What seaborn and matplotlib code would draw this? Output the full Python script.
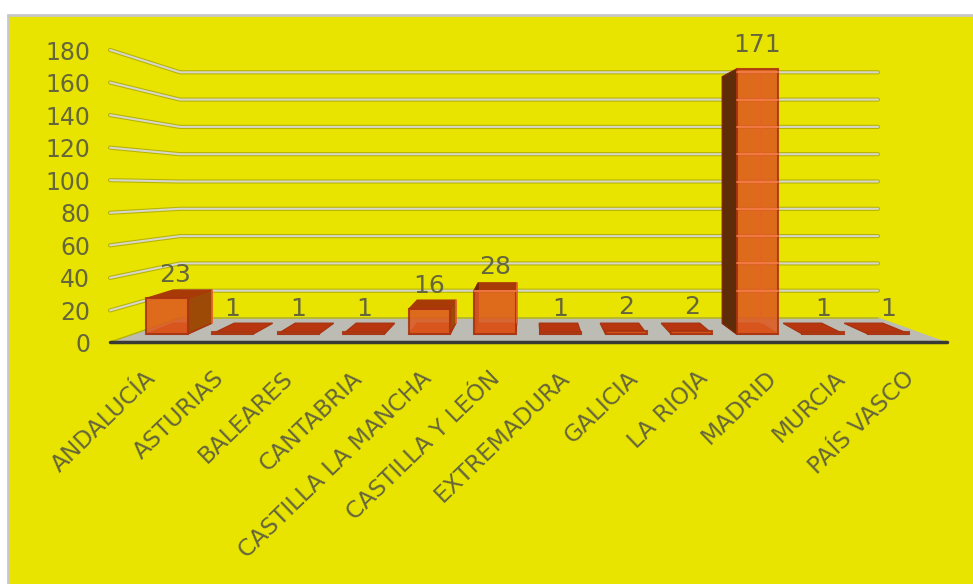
# import libraries
import pandas as pd
import seaborn as sns
import matplotlib.pyplot as plt
from matplotlib.patches import Rectangle
from matplotlib.transforms import Affine2D

# Chart data
regions = ['ANDALUCÍA', 'ASTURIAS', 'BALEARES', 'CANTABRIA', 'CASTILLA LA MANCHA',
           'CASTILLA Y LEÓN', 'EXTREMADURA', 'GALICIA', 'LA RIOJA', 'MADRID',
           'MURCIA', 'PAÍS VASCO']
counts = [23, 1, 1, 1, 16, 28, 1, 2, 2, 171, 1, 1]
ticks = [0, 20, 40, 60, 80, 100, 120, 140, 160, 180]

df = pd.DataFrame({'region': regions, 'count': counts})

W, H = 973, 584
YELLOW = '#e8e400'
TEXT = '#66663c'

sns.set_theme(style='white')
plt.rcParams['font.family'] = ['DejaVu Sans']

fig = plt.figure(figsize=(W / 100, H / 100), dpi=100, facecolor='white')
fig.add_artist(Rectangle((8 / W, -0.01), 1, 1.01 - 15 / H, transform=fig.transFigure,
                         facecolor=YELLOW, edgecolor='#c8c8c8', linewidth=2, zorder=-1))

# Main axes runs from the top of the picture to the front edge of the floor
FLOOR_PX = 343
ax = fig.add_axes([0, 1 - FLOOR_PX / H, 1, FLOOR_PX / H])
ax.patch.set_alpha(0)


# pixel position -> data position for the main axes
def dx(px):
    return (px - 167) / 65.6


def dy(py):
    return (334 - py) / 1.55


# one point pushed back towards the vanishing point
def back(x, y, k=0.07):
    return x + (dx(530) - x) * k, y + (dy(180) - y) * k


# Floor and back wall grid
ax.fill([dx(110), dx(180), dx(878), dx(947)], [dy(343), dy(318), dy(318), dy(343)],
        color='#bcbcb4', zorder=1)
ax.plot([dx(110), dx(947)], [dy(342), dy(342)], color='#3a3a34', lw=2.5, zorder=1.5,
        clip_on=False)
ax.plot([dx(110), dx(180), dx(878)], [dy(342), dy(318), dy(318)], color='#b4b400',
        lw=1, zorder=1.2)
for t in ticks[1:]:
    gx = [dx(110), dx(180), dx(878)]
    gy = [dy(343 - t * 1.628), dy(318 - t * 1.365), dy(318 - t * 1.365)]
    ax.plot(gx, gy, color='#b5b200', lw=3, zorder=1.3)
    ax.plot(gx, gy, color='#d6d6cc', lw=1.5, zorder=1.4)

# Back, side and top faces of each bar
half = 0.315
for i, v in enumerate(counts):
    bl, br = i - half, i + half
    (bl_x, bl_b), (br_x, br_b) = back(bl, 0), back(br, 0)
    (tl_x, tl_y), (tr_x, tr_y) = back(bl, v), back(br, v)
    ax.fill([bl, br, br_x, bl_x], [0, 0, br_b, bl_b], color='#b8360f', ec='#a8330f',
            lw=1, zorder=2)
    if v > 2:
        if v < dy(180):
            ax.fill([bl, br, tr_x, tl_x], [v, v, tr_y, tl_y], color='#a83a08', zorder=2.2)
        # the side turned towards the viewer
        if i < 5:
            ax.fill([br, br_x, tr_x, br], [0, br_b, tr_y, v], color='#9c4a06',
                    ec='#a8330f', lw=1, zorder=2.1)
        else:
            ax.fill([bl, bl_x, tl_x, bl], [0, bl_b, tl_y, v], color='#5e2c08',
                    ec='#7a2a08', lw=1, zorder=3)
        ax.plot([tr_x, tr_x], [br_b, tr_y], color='#e8602a', lw=1.2, zorder=5)
        # wall grid showing through the glassy front
        for t in ticks[1:]:
            if dy(318 - t * 1.365) < v:
                ax.plot([bl, br], [dy(318 - t * 1.365)] * 2, color='#f47a44', lw=1.3, zorder=5)

# Front faces
sns.barplot(data=df, x='region', y='count', order=regions, color='#dd5a20', saturation=1,
            width=half * 2, alpha=0.88, edgecolor='#a8330f', linewidth=1.5, ax=ax, zorder=4)
ax.set_xlim(dx(0), dx(W))
ax.set_ylim(dy(FLOOR_PX), dy(0))
ax.set_xlabel('')
ax.set_ylabel('')
ax.set_yticks([])
sns.despine(ax=ax, left=True, bottom=True, top=True, right=True)

# Region labels, spread a little wider than the bars since they sit on the front edge
ax.set_xticks(range(len(regions)))
ax.set_xticklabels(regions, rotation=44, ha='right', va='top', rotation_mode='anchor',
                   fontsize=16.8, color=TEXT)
ax.tick_params(axis='x', length=0, pad=17)
for i, lab in enumerate(ax.get_xticklabels()):
    lab.set_transform(lab.get_transform() + Affine2D().translate(-23 + 3.4 * i, 0))

# Value labels
for i, v in enumerate(counts):
    shift = 6 if i == 0 else 0
    ax.annotate(str(v), (i, v), xytext=(shift, 17), textcoords='offset points',
                ha='center', va='center', fontsize=18, color=TEXT, zorder=6)

# Value axis sits on its own steeper scale
ay = fig.add_axes([0, 1 - 343 / H, 92 / W, (343 - 50) / H])
ay.patch.set_alpha(0)
ay.set_ylim(0, 180)
ay.set_xticks([])
ay.set_yticks(ticks)
ay.tick_params(axis='y', length=0, pad=-65, labelsize=17, labelcolor=TEXT)
sns.despine(ax=ay, left=True, bottom=True, top=True, right=True)
for lab in ay.get_yticklabels():
    lab.set_ha('right')

fig.savefig('out.png', dpi=100, facecolor='white')
